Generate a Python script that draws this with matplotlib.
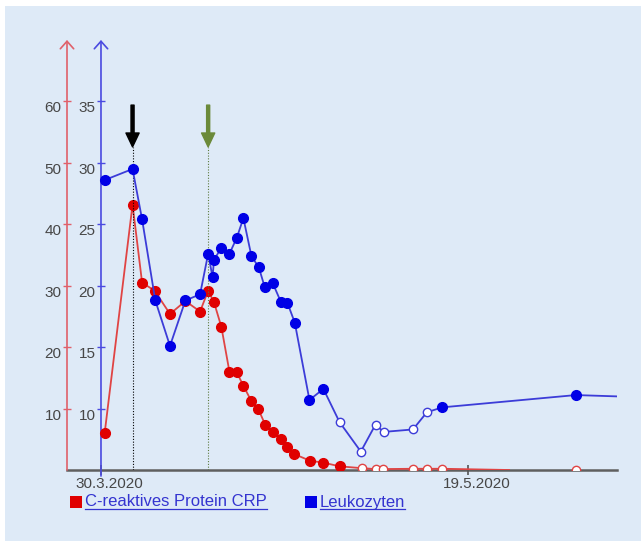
import matplotlib.pyplot as plt
from matplotlib.patches import Rectangle

plt.rcParams['font.family'] = ['Liberation Sans', 'DejaVu Sans']

# x values: days after 30.3.2020
leuko_days = [0.5, 4.3, 5.6, 7.4, 9.4, 11.5, 13.5, 14.6, 15.2, 15.4, 16.4, 17.5, 18.5, 19.4,
              20.5, 21.5, 22.3, 23.4, 24.5, 25.4, 26.4, 28.4, 30.3, 32.5, 35.4, 37.4, 38.5,
              42.5, 44.4, 46.5, 64.7, 75.0]
leuko_vals = [28.6, 29.5, 25.4, 18.8, 15.1, 18.8, 19.3, 22.6, 20.7, 22.1, 23.1, 22.6, 23.9, 25.5,
              22.4, 21.5, 19.9, 20.2, 18.7, 18.6, 17.0, 10.7, 11.6, 8.9, 6.5, 8.7, 8.1,
              8.3, 9.7, 10.1, 11.1, 10.9]
leuko_open = [32.5, 35.4, 37.4, 38.5, 42.5, 44.4]

crp_days = [0.5, 4.3, 5.6, 7.3, 9.4, 11.5, 13.5, 14.6, 15.4, 16.4, 17.5, 18.5, 19.4, 20.5,
            21.4, 22.4, 23.4, 24.5, 25.3, 26.3, 28.5, 30.3, 32.5, 35.5, 37.4, 38.4, 42.5,
            44.4, 46.5, 64.7]
crp_vals = [6.0, 43.2, 30.5, 29.2, 25.4, 27.5, 25.8, 29.2, 27.3, 23.3, 16.0, 15.9, 13.7, 11.2,
            10.0, 7.3, 6.2, 5.0, 3.7, 2.6, 1.5, 1.2, 0.6, 0.3, 0.15, 0.15, 0.2,
            0.2, 0.2, 0.0]
crp_open = [35.5, 37.4, 38.4, 42.5, 44.4, 46.5, 64.7]
crp_line_end = 55.6

x_ticks = [0, 50]
x_labels = ['30.3.2020', '19.5.2020']
crp_ticks = [10, 20, 30, 40, 50, 60]
leuko_ticks = [10, 15, 20, 25, 30, 35]
arrow_days = [4.3, 14.6]
arrow_colors = ['black', '#6b8a3a']
dot_colors = ['black', '#5e7a40']

RED = '#e00000'
RED_LINE = '#e04444'
RED_AXIS = '#e0606a'
BLUE = '#0000e6'
BLUE_LINE = '#3c3cd8'
BLUE_AXIS = '#4a4ae0'
TXT = '#474747'
BG = '#deeaf7'

fig = plt.figure(figsize=(6.41, 5.41), dpi=100, facecolor='white')
fig.patches.append(Rectangle((5 / 641, 0), 1, 535 / 541, transform=fig.transFigure,
                             facecolor=BG, edgecolor='none', zorder=-10))

ax = fig.add_axes([67 / 641, 71 / 541, 550 / 641, 430 / 541])
ax.set_facecolor('none')
ax.set_xlim(-4.63, 70.3)
ax.set_ylim(0, 70)
ax_b = ax.twinx()
ax_b.set_ylim(5, 40)

for a in (ax, ax_b):
    for s in a.spines.values():
        s.set_visible(False)

# red axis (CRP) at left edge
ax.spines['left'].set_position(('axes', 0))
ax.set_yticks(crp_ticks, labels=[str(v) for v in crp_ticks])
ax.tick_params(axis='y', direction='inout', length=6, width=1, color=RED_AXIS,
               labelcolor=TXT, labelsize=11, pad=1)
plt.setp(ax.get_yticklabels(), va='top')

# blue axis (Leukozyten) at 30.3.2020
ax_b.spines['left'].set_position(('data', 0))
ax_b.yaxis.tick_left()
ax_b.set_yticks(leuko_ticks, labels=[str(v) for v in leuko_ticks])
ax_b.tick_params(axis='y', direction='inout', length=6, width=1, color=BLUE_AXIS,
                 labelcolor=TXT, labelsize=11, pad=1)
plt.setp(ax_b.get_yticklabels(), va='top')

# x axis
ax.set_xticks(x_ticks, labels=['', ''])
ax.tick_params(axis='x', direction='inout', length=7, width=1.2, color='#555555')
for d, lab in zip(x_ticks, x_labels):
    ax.annotate(lab, xy=(d, 0), xycoords=('data', 'axes fraction'), xytext=(6, -5),
                textcoords='offset points', ha='center', va='top', fontsize=11, color=TXT)
ax.axhline(0, color='#5f5f5f', lw=1.8, zorder=1, clip_on=False)

# axis lines with open arrow heads
ax.annotate('', xy=(-4.63, 1), xycoords=('data', 'axes fraction'), xytext=(-4.63, 0),
            arrowprops=dict(arrowstyle='->,head_length=0.45,head_width=0.4', color=RED_AXIS,
                            lw=1.2, mutation_scale=12, shrinkA=0, shrinkB=0))
ax.annotate('', xy=(0, 1), xycoords=('data', 'axes fraction'), xytext=(0, -0.014),
            arrowprops=dict(arrowstyle='->,head_length=0.45,head_width=0.4', color=BLUE_AXIS,
                            lw=1.2, mutation_scale=12, shrinkA=0, shrinkB=0))

# CRP series
line_days = [d for d in crp_days if d < 60] + [crp_line_end]
line_vals = [v for d, v in zip(crp_days, crp_vals) if d < 60] + [0]
ax.plot(line_days, line_vals, color=RED_LINE, lw=1.3, zorder=3)
fd = [d for d in crp_days if d not in crp_open]
fv = [v for d, v in zip(crp_days, crp_vals) if d not in crp_open]
od = [d for d in crp_days if d in crp_open]
ov = [v for d, v in zip(crp_days, crp_vals) if d in crp_open]
ax.plot(fd, fv, 'o', color=RED, ms=7, zorder=4)
ax.plot(od, ov, 'o', mfc='white', mec=RED_LINE, mew=1, ms=6, zorder=4)

# Leukozyten series
ax_b.plot(leuko_days, leuko_vals, color=BLUE_LINE, lw=1.3, zorder=3)
fd = [d for d in leuko_days if d not in leuko_open]
fv = [v for d, v in zip(leuko_days, leuko_vals) if d not in leuko_open]
od = [d for d in leuko_days if d in leuko_open]
ov = [v for d, v in zip(leuko_days, leuko_vals) if d in leuko_open]
ax_b.plot(fd, fv, 'o', color=BLUE, ms=7, zorder=4)
ax_b.plot(od, ov, 'o', mfc='white', mec=BLUE_LINE, mew=1, ms=6, zorder=4)

# markers: arrows and dotted guide lines
for d, c, dc in zip(arrow_days, arrow_colors, dot_colors):
    ax_b.annotate('', xy=(d, 31.3), xytext=(d, 34.7),
                  arrowprops=dict(width=2.2, headwidth=9.5, headlength=10, color=c, shrink=0))
    ax_b.vlines(d, 5, 31.3, colors=dc, linestyles=(0, (1, 1.5)), lw=0.8, zorder=2)

# legend (underlined links)
fig.canvas.draw()
renderer = fig.canvas.get_renderer()
legend_items = [('C-reaktives Protein CRP', RED, 70), ('Leukozyten', BLUE, 305)]
for name, col, x0 in legend_items:
    fig.patches.append(Rectangle((x0 / 641, 1 - 508 / 541), 12 / 641, 12 / 541,
                                 transform=fig.transFigure, facecolor=col, edgecolor='none'))
    t = fig.text((x0 + 15) / 641, 1 - 502 / 541, name, ha='left', va='center',
                 fontsize=12, color='#3434d0')
    bb = t.get_window_extent(renderer).transformed(fig.transFigure.inverted())
    fig.add_artist(plt.Line2D([bb.x0, bb.x1], [1 - 509 / 541] * 2, color='#3434d0', lw=0.9,
                              transform=fig.transFigure))

fig.savefig('out.png', dpi=100, facecolor=fig.get_facecolor())
